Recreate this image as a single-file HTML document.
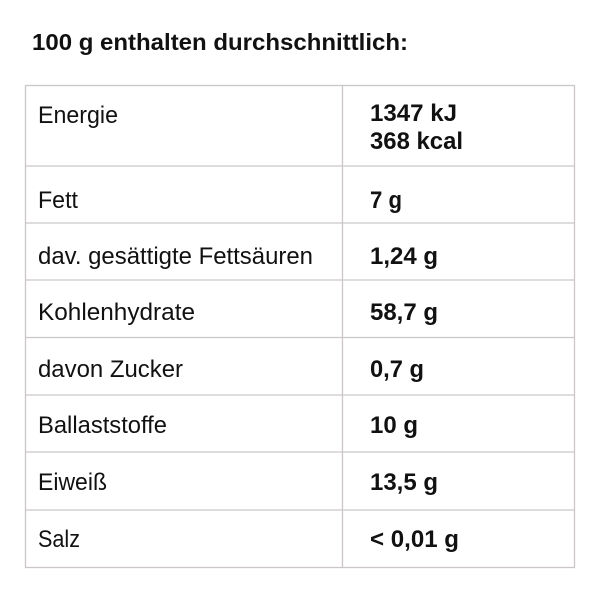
<!DOCTYPE html>
<html><head><meta charset="utf-8"><style>
html,body{margin:0;padding:0;background:#fff;}
svg{display:block}
text{font-family:"Liberation Sans",sans-serif;fill:#111;}
.b{font-weight:bold}
</style></head><body>
<svg width="600" height="600" viewBox="0 0 600 600">
<text x="32" y="50" class="b" font-size="23" textLength="376" lengthAdjust="spacingAndGlyphs">100 g enthalten durchschnittlich:</text>
<g stroke="#cbc7c7" stroke-width="1.3" fill="none">
<rect x="25.5" y="85.5" width="549" height="482"/>
<line x1="342.5" y1="85" x2="342.5" y2="567"/>
<line x1="25" y1="166" x2="575" y2="166"/>
<line x1="25" y1="223" x2="575" y2="223"/>
<line x1="25" y1="280" x2="575" y2="280"/>
<line x1="25" y1="337.5" x2="575" y2="337.5"/>
<line x1="25" y1="395" x2="575" y2="395"/>
<line x1="25" y1="452" x2="575" y2="452"/>
<line x1="25" y1="510" x2="575" y2="510"/>
</g>
<g font-size="24">
<text x="38" y="123" textLength="80" lengthAdjust="spacingAndGlyphs">Energie</text>
<text x="38" y="208" textLength="40" lengthAdjust="spacingAndGlyphs">Fett</text>
<text x="38" y="264" textLength="275" lengthAdjust="spacingAndGlyphs">dav. gesättigte Fettsäuren</text>
<text x="38" y="320" textLength="157" lengthAdjust="spacingAndGlyphs">Kohlenhydrate</text>
<text x="38" y="377" textLength="145" lengthAdjust="spacingAndGlyphs">davon Zucker</text>
<text x="38" y="433" textLength="129" lengthAdjust="spacingAndGlyphs">Ballaststoffe</text>
<text x="38" y="490" textLength="69" lengthAdjust="spacingAndGlyphs">Eiweiß</text>
<text x="38" y="547" textLength="42" lengthAdjust="spacingAndGlyphs">Salz</text>
</g>
<g font-size="24" class="b">
<text x="370" y="121" textLength="87" lengthAdjust="spacingAndGlyphs">1347 kJ</text>
<text x="370" y="149" textLength="93" lengthAdjust="spacingAndGlyphs">368 kcal</text>
<text x="370" y="208" textLength="32" lengthAdjust="spacingAndGlyphs">7 g</text>
<text x="370" y="264" textLength="68" lengthAdjust="spacingAndGlyphs">1,24 g</text>
<text x="370" y="320" textLength="68" lengthAdjust="spacingAndGlyphs">58,7 g</text>
<text x="370" y="377" textLength="54" lengthAdjust="spacingAndGlyphs">0,7 g</text>
<text x="370" y="433" textLength="48" lengthAdjust="spacingAndGlyphs">10 g</text>
<text x="370" y="490" textLength="68" lengthAdjust="spacingAndGlyphs">13,5 g</text>
<text x="370" y="547" textLength="89" lengthAdjust="spacingAndGlyphs">&lt; 0,01 g</text>
</g>
</svg>
</body></html>
